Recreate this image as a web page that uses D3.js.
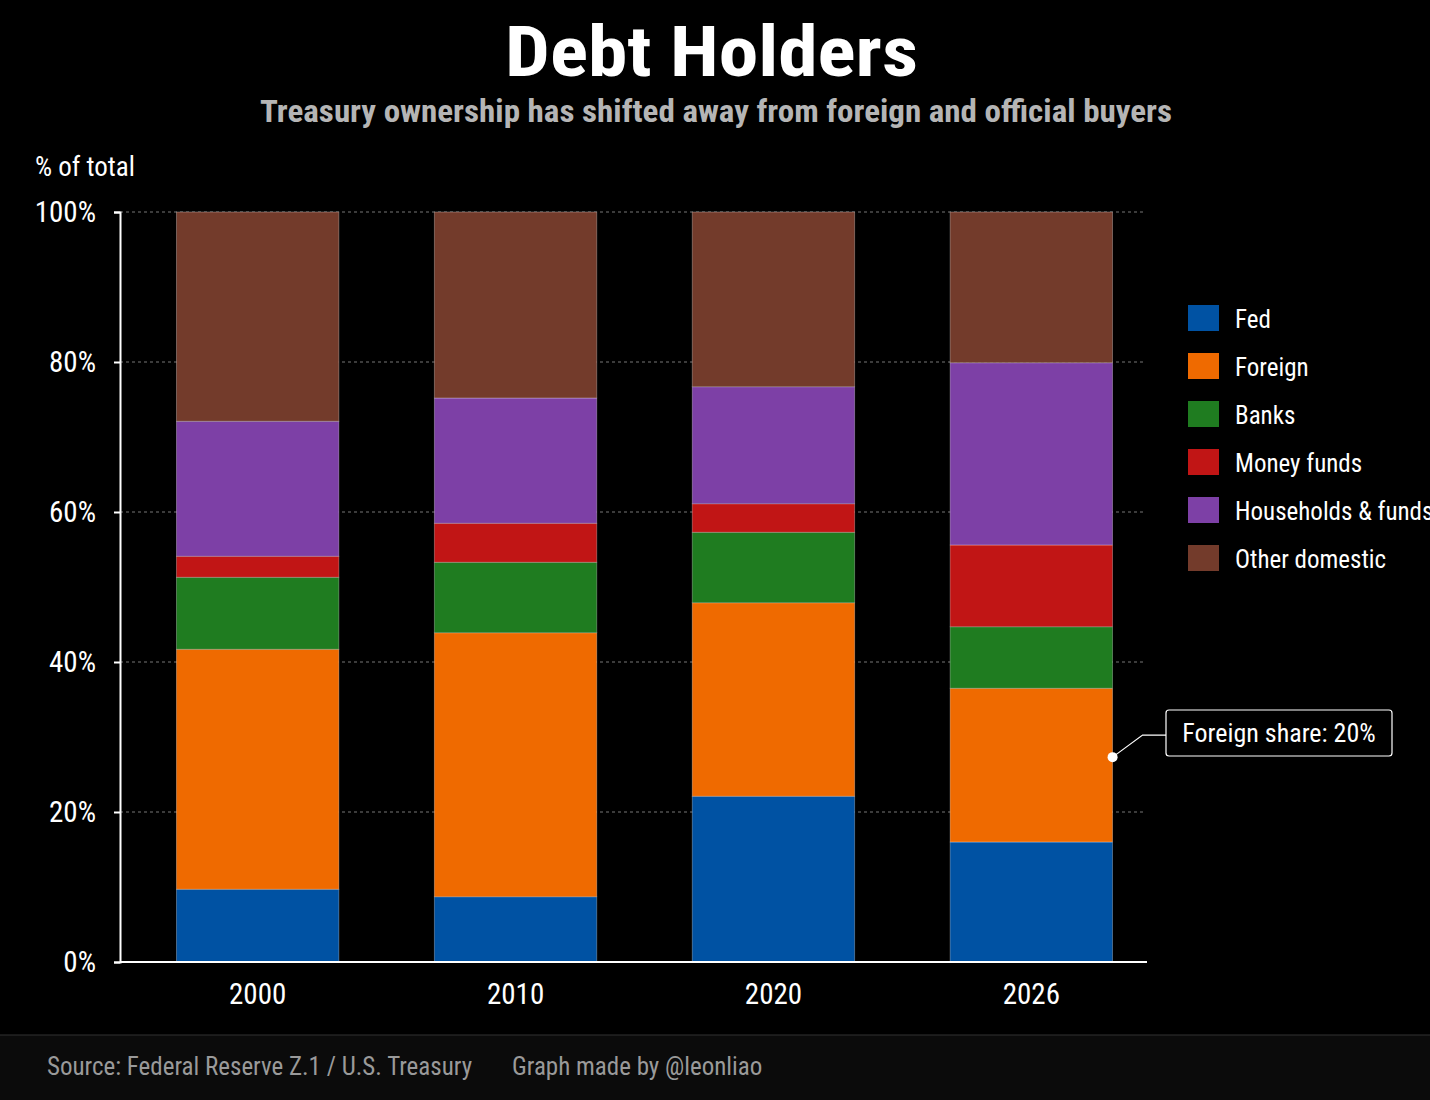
<!DOCTYPE html>
<html lang="en">
<head>
<meta charset="UTF-8">
<title>Debt Holders</title>
<script src="https://d3js.org/d3.v7.min.js"></script>
<style>
  body { margin: 0; background: #000; }
  text { font-family: "Liberation Sans Narrow", "Roboto Condensed", Roboto, sans-serif; }
</style>
</head>
<body>
<div id="chart"></div>
<script>
// data
const years = ["2000", "2010", "2020", "2026"];
const holders = ["Fed", "Foreign", "Banks", "Money funds", "Households & funds", "Other domestic"];
const fed        = [9.7, 8.7, 22.1, 16.0];
const foreign    = [32.0, 35.2, 25.8, 20.5];
const banks      = [9.6, 9.4, 9.4, 8.2];
const moneyFunds = [2.8, 5.2, 3.8, 10.9];
const households = [18.0, 16.7, 15.6, 24.3];
const other      = [27.9, 24.8, 23.3, 20.1];
const yTicks = [0, 20, 40, 60, 80, 100];
const colors = ["#0052a3", "#ef6a00", "#1f7c20", "#c11515", "#7d40a6", "#733b2b"];

const W = 1430, H = 1100;
const svg = d3.select("#chart").append("svg").attr("width", W).attr("height", H);
svg.append("rect").attr("width", W).attr("height", H).attr("fill", "#000");

const x = d3.scaleBand().domain(years).range([81, 1208]).padding(0.37);
const y = d3.scaleLinear().domain([0, 100]).range([962, 212]);

// gridlines
svg.selectAll(".grid").data(yTicks.slice(1)).join("line")
  .attr("x1", 120).attr("x2", 1145)
  .attr("y1", d => y(d)).attr("y2", d => y(d))
  .attr("stroke", "#777").attr("stroke-dasharray", "3,3").attr("stroke-width", 1);

// stacked bars
const rows = years.map((yr, i) => ({
  year: yr, "Fed": fed[i], "Foreign": foreign[i], "Banks": banks[i],
  "Money funds": moneyFunds[i], "Households & funds": households[i], "Other domestic": other[i]
}));
const stack = d3.stack().keys(holders)(rows);
svg.selectAll(".layer").data(stack).join("g")
  .attr("fill", (d, i) => colors[i])
  .selectAll("rect").data(d => d).join("rect")
  .attr("x", d => x(d.data.year))
  .attr("width", x.bandwidth())
  .attr("y", d => y(d[1]))
  .attr("height", d => y(d[0]) - y(d[1]))
  .attr("stroke", "rgba(255,255,255,0.35)").attr("stroke-width", 0.8);

// axes
const yAxis = svg.append("g").attr("transform", "translate(120,0)")
  .call(d3.axisLeft(y).tickValues(yTicks).tickFormat(d => d + "%").tickSize(6));
yAxis.select(".domain").attr("stroke", "#fff").attr("stroke-width", 2);
yAxis.selectAll(".tick line").attr("stroke", "#fff").attr("stroke-width", 2);
yAxis.selectAll(".tick text").attr("fill", "#fff").attr("font-size", 29).attr("x", -24);

svg.append("line").attr("x1", 120).attr("x2", 1147).attr("y1", 962).attr("y2", 962)
  .attr("stroke", "#fff").attr("stroke-width", 2);
const xAxis = svg.append("g").attr("transform", "translate(0,962)")
  .call(d3.axisBottom(x).tickSize(0));
xAxis.select(".domain").remove();
xAxis.selectAll(".tick text").attr("fill", "#fff").attr("font-size", 29).attr("dy", "1.35em");

// titles
svg.append("text").attr("x", 505).attr("y", 76)
  .attr("fill", "#fff").attr("font-size", 70).attr("font-weight", "bold")
  .attr("textLength", 413).attr("lengthAdjust", "spacingAndGlyphs").text("Debt Holders");
svg.append("text").attr("x", 260).attr("y", 122)
  .attr("fill", "#b5b5b5").attr("font-size", 32).attr("font-weight", "bold")
  .attr("textLength", 912).attr("lengthAdjust", "spacingAndGlyphs")
  .text("Treasury ownership has shifted away from foreign and official buyers");
svg.append("text").attr("x", 35).attr("y", 176).attr("fill", "#fff").attr("font-size", 27)
  .text("% of total");

// legend
const leg = svg.selectAll(".leg").data(holders).join("g")
  .attr("transform", (d, i) => `translate(1188,${305 + i * 48})`);
leg.append("rect").attr("width", 31).attr("height", 26).attr("fill", (d, i) => colors[i]);
leg.append("text").attr("x", 47).attr("y", 23).attr("fill", "#fff").attr("font-size", 25).text(d => d);

// callout
const lastYear = years[3];
const cx = x(lastYear) + x.bandwidth(), cy = y(fed[3] + foreign[3] / 2) - 8;
svg.append("path").attr("d", `M${cx},${cy} L${cx + 30},${cy - 22} L1166,${cy - 22}`)
  .attr("fill", "none").attr("stroke", "#fff").attr("stroke-width", 1.2);
svg.append("circle").attr("cx", cx).attr("cy", cy).attr("r", 5).attr("fill", "#fff");
svg.append("rect").attr("x", 1166).attr("y", 710).attr("width", 226).attr("height", 46).attr("rx", 3)
  .attr("fill", "#000").attr("stroke", "#fff").attr("stroke-width", 1.2);
svg.append("text").attr("x", 1279).attr("y", 742).attr("text-anchor", "middle")
  .attr("fill", "#fff").attr("font-size", 26).text("Foreign share: 20%");

// footer
svg.append("rect").attr("x", 0).attr("y", 1035).attr("width", W).attr("height", H - 1035).attr("fill", "#0b0b0b");
svg.append("line").attr("x1", 0).attr("x2", W).attr("y1", 1035).attr("y2", 1035).attr("stroke", "#333");
svg.append("text").attr("x", 47).attr("y", 1075).attr("fill", "#9a9a9a").attr("font-size", 25)
  .text("Source: Federal Reserve Z.1 / U.S. Treasury");
svg.append("text").attr("x", 512).attr("y", 1075).attr("fill", "#9a9a9a").attr("font-size", 25)
  .text("Graph made by @leonliao");
</script>
</body>
</html>
